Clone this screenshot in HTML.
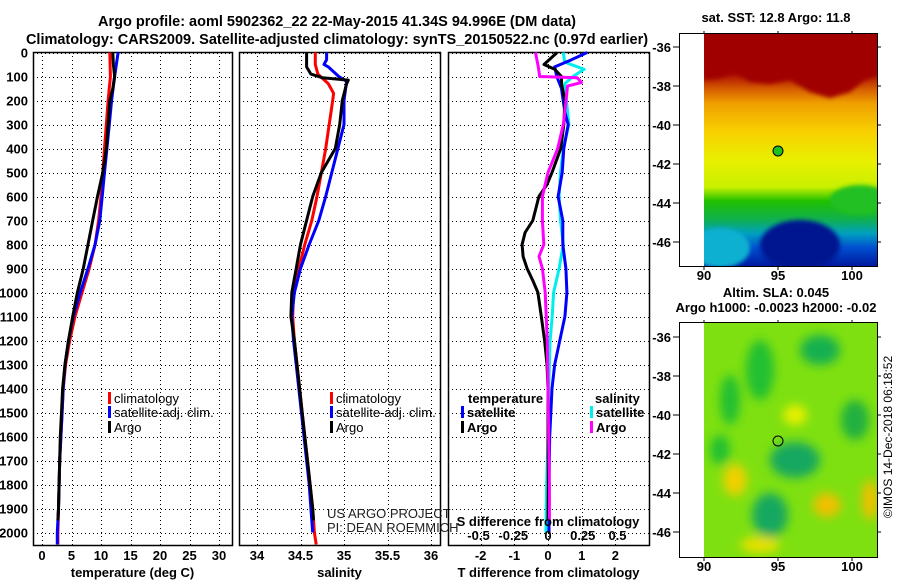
<!DOCTYPE html>
<html><head><meta charset="utf-8"><style>
html,body{margin:0;padding:0;background:#fff;}
svg{display:block;font-family:"Liberation Sans",Arial,sans-serif;}
.t{font-size:13px;font-weight:bold;fill:#000;}
.tk{font-size:13px;font-weight:bold;fill:#000;}
.lg{font-size:13px;fill:#000;}
</style></head><body>
<svg id="c" width="900" height="580" viewBox="0 0 900 580" xmlns="http://www.w3.org/2000/svg">
<defs>
<filter id="bl" x="-20%" y="-20%" width="140%" height="140%"><feGaussianBlur stdDeviation="5"/></filter>
<filter id="bl2" x="-20%" y="-20%" width="140%" height="140%"><feGaussianBlur stdDeviation="2"/></filter>
<linearGradient id="sst" x1="0" y1="0" x2="0" y2="1">
<stop offset="0" stop-color="#a00000"/><stop offset="0.17" stop-color="#a80800"/>
<stop offset="0.24" stop-color="#d86000"/><stop offset="0.30" stop-color="#f0a000"/>
<stop offset="0.42" stop-color="#f8d000"/><stop offset="0.55" stop-color="#e8f000"/>
<stop offset="0.66" stop-color="#c8f000"/><stop offset="0.72" stop-color="#20c000"/>
<stop offset="0.80" stop-color="#10b050"/><stop offset="0.86" stop-color="#00a0c0"/>
<stop offset="0.92" stop-color="#0050d0"/><stop offset="1" stop-color="#0018a0"/>
</linearGradient>
<clipPath id="m1c"><rect x="704" y="34" width="173" height="232"/></clipPath>
<clipPath id="m2c"><rect x="704" y="323" width="173" height="234"/></clipPath>
</defs>
<text class="t" x="337" y="26" text-anchor="middle" style="font-size:14.5px">Argo profile: aoml 5902362_22 22-May-2015 41.34S 94.996E (DM data)</text>
<text class="t" x="337" y="44" text-anchor="middle" style="font-size:14.5px">Climatology: CARS2009. Satellite-adjusted climatology: synTS_20150522.nc (0.97d earlier)</text>
<g id="panels"></g>
<g id="maps">
 <text class="t" x="776" y="22" text-anchor="middle">sat. SST: 12.8 Argo: 11.8</text>
 <g clip-path="url(#m1c)">
  <rect x="704" y="34" width="173" height="232" fill="url(#sst)"/>
  <path d="M704,80 L720,78 L735,72 L750,82 L770,84 L790,80 L810,92 L830,98 L850,92 L865,80 L877,75 L877,34 L704,34Z" fill="#a00000" filter="url(#bl2)"/>
  <ellipse cx="720" cy="248" rx="30" ry="20" fill="#10b0d0" filter="url(#bl2)"/>
  <ellipse cx="800" cy="245" rx="40" ry="25" fill="#001890" filter="url(#bl2)"/>
  <ellipse cx="860" cy="200" rx="30" ry="15" fill="#20c020" filter="url(#bl2)"/>
 </g>
 <rect x="679.5" y="33.5" width="198" height="233" fill="none" stroke="#000"/>
 <circle cx="778" cy="151" r="5" fill="#20c020" stroke="#000"/>
 <text class="t" x="776" y="297" text-anchor="middle">Altim. SLA: 0.045</text>
 <text class="t" x="776" y="312" text-anchor="middle">Argo h1000: -0.0023 h2000: -0.02</text>
 <g clip-path="url(#m2c)">
  <rect x="704" y="323" width="173" height="234" fill="#7ee010"/>
  <g filter="url(#bl)">
   <ellipse cx="760" cy="370" rx="14" ry="30" fill="#20c030"/>
   <ellipse cx="730" cy="400" rx="10" ry="25" fill="#20c030"/>
   <ellipse cx="820" cy="350" rx="20" ry="15" fill="#18b050"/>
   <ellipse cx="855" cy="420" rx="14" ry="20" fill="#20b040"/>
   <ellipse cx="795" cy="460" rx="25" ry="18" fill="#18a860"/>
   <ellipse cx="770" cy="515" rx="18" ry="22" fill="#18a860"/>
   <ellipse cx="720" cy="450" rx="10" ry="15" fill="#20c030"/>
   <ellipse cx="735" cy="480" rx="12" ry="16" fill="#f0d000"/>
   <ellipse cx="827" cy="505" rx="14" ry="12" fill="#f0c000"/>
   <ellipse cx="870" cy="500" rx="8" ry="20" fill="#f0c000"/>
   <ellipse cx="795" cy="415" rx="12" ry="10" fill="#e8f000"/>
   <ellipse cx="760" cy="545" rx="20" ry="8" fill="#e8e000"/>
  </g>
 </g>
 <rect x="679.5" y="322.5" width="198" height="235" fill="none" stroke="#000"/>
 <circle cx="778" cy="441" r="5" fill="none" stroke="#000"/>
 <text x="892" y="437" font-size="12" text-anchor="middle" transform="rotate(-90 892 437)">©IMOS 14-Dec-2018 06:18:52</text>
</g>
<script>
// ---- data ----
var tDepth=[0,100,200,300,400,500,600,700,800,900,1000,1100,1200,1300,1400,1500,1600,1700,1800,1900,2000,2050];
var tClim=[11.5,11.6,11.2,10.9,10.6,10.3,10.0,9.6,9.0,8.0,6.8,5.6,4.7,4.0,3.6,3.4,3.2,3.0,2.9,2.8,2.7,2.7];
var tSat=[12.9,12.3,11.8,11.4,11.0,10.6,10.2,9.8,9.0,7.8,6.5,5.3,4.5,3.9,3.6,3.4,3.2,3.0,2.9,2.8,2.6,2.6];
var aDepth=[0,50,100,150,200,300,400,500,600,700,800,900,1000,1100,1200,1300,1400,1500,1600,1700,1800,1900,1950];
var tArgo=[12.0,12.1,12.3,12.0,11.5,11.2,10.9,10.3,9.4,8.6,7.8,7.0,6.0,5.2,4.5,3.9,3.5,3.3,3.1,3.0,2.9,2.8,2.7];
var sDepth=[0,50,90,130,170,200,300,400,500,600,700,800,900,1000,1100,1200,1300,1400,1500,1600,1700,1800,1900,2000,2050];
var sClim=[34.67,34.67,34.70,34.82,34.88,34.87,34.83,34.79,34.74,34.69,34.63,34.55,34.48,34.42,34.41,34.43,34.46,34.49,34.52,34.55,34.58,34.61,34.64,34.66,34.68];
var sbDepth=[0,30,50,60,100,120,200,300,400,500,600,700,800,900,1000,1100,1200,1300,1400,1500,1600,1700,1800,1900,2000];
var sSat=[34.80,34.80,34.77,34.82,34.94,35.03,35.00,35.00,34.93,34.86,34.79,34.71,34.60,34.50,34.43,34.40,34.42,34.45,34.48,34.51,34.54,34.57,34.60,34.62,34.64];
var saDepth=[0,60,90,105,115,130,200,300,400,500,600,700,800,900,1000,1100,1200,1300,1400,1500,1600,1700,1800,1900,1950];
var sArgo=[34.57,34.57,34.62,34.75,35.05,35.03,34.98,34.95,34.90,34.74,34.64,34.57,34.50,34.45,34.40,34.39,34.43,34.46,34.49,34.52,34.55,34.58,34.61,34.64,34.65];
var dtDepth=[0,50,70,100,130,200,300,400,500,550,600,700,750,800,850,900,950,1000,1100,1200,1300,1400,1600,1800,1950];
var dtArgo=[0.27,-0.12,0.2,0.4,0.4,0.5,0.47,0.38,0.12,-0.03,-0.27,-0.45,-0.68,-0.77,-0.74,-0.62,-0.45,-0.3,-0.2,-0.1,-0.03,0,0,0.01,0];
var dtsDepth=[0,30,60,100,150,250,300,400,500,600,700,800,900,1000,1100,1200,1300,1400,1600,1800,2000];
var dtSat=[1.16,0.7,0.2,0.26,0.4,0.5,0.6,0.47,0.42,0.3,0.44,0.44,0.53,0.56,0.5,0.35,0.2,0.12,0.05,0.03,0.03];
var dsDepth=[0,40,70,100,130,300,400,500,600,700,800,900,1000,1100,1200,1400,1600,1800,2000];
var dsSat=[0.11,0.12,0.26,0.18,0.12,0.15,0.11,0.09,0.08,0.09,0.11,0.08,0.04,0.03,0.015,0.005,0,-0.01,-0.015];
var dsaDepth=[0,60,100,105,125,140,200,300,400,500,600,700,800,850,900,1000,1200,1400,1600,1800,1950];
var dsArgo=[-0.09,-0.07,-0.06,0.21,0.24,0.14,0.13,0.11,0.07,0,-0.04,-0.04,-0.03,-0.065,-0.04,-0.02,-0.005,0,0.005,0.01,0.01];
var depthTicks=[0,100,200,300,400,500,600,700,800,900,1000,1100,1200,1300,1400,1500,1600,1700,1800,1900,2000];
var tTicks=[0,5,10,15,20,25,30];
var sTicks=[34,34.5,35,35.5,36];
var sTickLabels=["34","34.5","35","35.5","36"];
var dtTicks=[-2,-1,0,1,2];
var dsTicks=[-0.5,-0.25,0,0.25,0.5];
var dsTickLabels=["-0.5","-0.25","0","0.25","0.5"];
var latTicks=[-36,-38,-40,-42,-44,-46];
var lonTicks=[90,95,100];

// ---- scales ----
var NS="http://www.w3.org/2000/svg";
function Y(d){return 52.5+d*0.24;}
function lin(d0,d1,r0,r1){return function(v){return r0+(v-d0)*(r1-r0)/(d1-d0);};}
var xT=lin(0,30,42,219), xS=lin(34,36,257,431), xDT=lin(0,1,548,581.7), xDS=lin(0,1,548,687);
var pTop=52,pBot=545;
var g=document.getElementById('panels');
function el(tag,attrs,parent,txt){var e=document.createElementNS(NS,tag);for(var k in attrs)e.setAttribute(k,attrs[k]);if(txt!==undefined)e.textContent=txt;(parent||g).appendChild(e);return e;}
function px(v){return Math.round(v)+0.5;}
var gridStyle={stroke:'#000','stroke-width':1,'stroke-dasharray':'1,3','shape-rendering':'crispEdges'};
function gl(p,x1,y1,x2,y2){var a={x1:x1,y1:y1,x2:x2,y2:y2};for(var k in gridStyle)a[k]=gridStyle[k];return el('line',a,p);}
function panel(name,x0,x1,ticks,labels,xs,title,yl){
  var p=el('g',{});
  
  
  depthTicks.forEach(function(d){gl(p,x0,px(Y(d)),x1,px(Y(d)));});
  ticks.forEach(function(v){gl(p,px(xs(v)),pTop,px(xs(v)),pBot);});
  var r=el('rect',{x:x0+0.5,y:pTop+0.5,width:x1-x0,height:pBot-pTop,fill:'none',stroke:'#000','stroke-width':1.5},p);
  
  
  ticks.forEach(function(v,i){var t=el('text',{x:xs(v),y:560,'class':'tk','text-anchor':'middle'},p,labels[i]);
    
    });
  var tt=el('text',{x:(x0+x1)/2,y:577,'class':'tk','text-anchor':'middle'},p,title);
  
  
  if(yl){depthTicks.forEach(function(d){var t=el('text',{x:28,y:Y(d)+5,'class':'tk','text-anchor':'end'},p,String(d));
    
    });}
  return p;
}
function line(p,depths,vals,xs,color,name){
  var pts=depths.map(function(d,i){return xs(vals[i]).toFixed(1)+','+Y(d).toFixed(1);}).join(' ');
  var l=el('polyline',{points:pts,fill:'none',stroke:color,'stroke-width':3,'stroke-linejoin':'round'},p);
  
  
}
function leg(p,x,y,color,txt,name,bold){
  var b=el('rect',{x:x,y:y-11,width:3,height:12,fill:color},p);
  
  
  var t=el('text',{x:x+6,y:y,'class':bold?'tk':'lg'},p,txt);
  
  
}
var p1=panel('temperature',33,232,tTicks,tTicks.map(String),xT,'temperature (deg C)',true);
line(p1,tDepth,tClim,xT,'#f00','temp-climatology-line');
line(p1,tDepth,tSat,xT,'#00f','temp-satellite-line');
line(p1,aDepth,tArgo,xT,'#000','temp-argo-line');
leg(p1,108,403,'#f00','climatology','legend-climatology');
leg(p1,108,417,'#00f','satellite-adj. clim.','legend-satellite');
leg(p1,108,432,'#000','Argo','legend-argo');

var p2=panel('salinity',239,440,sTicks,sTickLabels,xS,'salinity',false);
line(p2,sDepth,sClim,xS,'#f00','sal-climatology-line');
line(p2,sbDepth,sSat,xS,'#00f','sal-satellite-line');
line(p2,saDepth,sArgo,xS,'#000','sal-argo-line');
leg(p2,330,403,'#f00','climatology','legend-climatology');
leg(p2,330,417,'#00f','satellite-adj. clim.','legend-satellite');
leg(p2,330,432,'#000','Argo','legend-argo');
var c1=el('text',{x:327,y:518,'font-size':'13',fill:'#222'},p2,'US ARGO PROJECT');


var c2=el('text',{x:327,y:532,'font-size':'13',fill:'#222'},p2,'PI: DEAN ROEMMICH');



var p3=panel('difference',448,649,dtTicks,dtTicks.map(String),xDT,'T difference from climatology',false);
line(p3,dsDepth,dsSat,xDS,'#0ee','sdiff-satellite-line');
line(p3,dtsDepth,dtSat,xDT,'#00f','tdiff-satellite-line');
line(p3,dtDepth,dtArgo,xDT,'#000','tdiff-argo-line');
line(p3,dsaDepth,dsArgo,xDS,'#f0f','sdiff-argo-line');
var h1=el('text',{x:468,y:403,'class':'tk'},p3,'temperature');


var h2=el('text',{x:595,y:403,'class':'tk'},p3,'salinity');


leg(p3,461,417,'#00f','satellite','legend-t-satellite',true);
leg(p3,461,432,'#000','Argo','legend-t-argo',true);
leg(p3,590,417,'#0ee','satellite','legend-s-satellite',true);
leg(p3,590,432,'#f0f','Argo','legend-s-argo',true);
var st=el('text',{x:548,y:526,'class':'tk','text-anchor':'middle'},p3,'S difference from climatology');


dsTicks.forEach(function(v,i){var t=el('text',{x:xDS(v),y:540,'class':'tk','text-anchor':'middle'},p3,dsTickLabels[i]);
  
  });

// map axes
var mg=document.getElementById('maps');
var lonX=lin(90,100,704,852);
[[34,266,lin(-36,-46,47,242),280],[323,557,lin(-36,-46,337,532),571]].forEach(function(m){
  latTicks.forEach(function(v){
    var y=m[2](v);
    el('line',{x1:673,x2:679,y1:y,y2:y,stroke:'#000'},mg);
    el('line',{x1:877,x2:881,y1:y,y2:y,stroke:'#000'},mg);
    var t=el('text',{x:671,y:y+5,'class':'tk','text-anchor':'end'},mg,String(v));
    
    
  });
  lonTicks.forEach(function(v){
    var x=lonX(v);
    el('line',{x1:x,x2:x,y1:m[0]-3,y2:m[0],stroke:'#000'},mg);
    el('line',{x1:x,x2:x,y1:m[1],y2:m[1]+4,stroke:'#000'},mg);
    var t=el('text',{x:x,y:m[3],'class':'tk','text-anchor':'middle'},mg,String(v));
    
    
  });
});
</script>
</svg>
</body></html>
